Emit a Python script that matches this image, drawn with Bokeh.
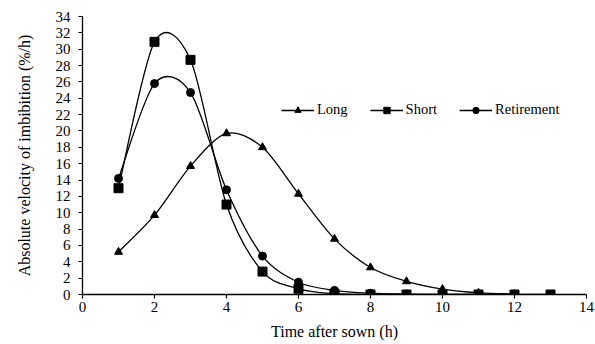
from bokeh.plotting import figure
from bokeh.models import Range1d, FixedTicker, Legend, LegendItem, ColumnDataSource
from bokeh.embed import file_html
from bokeh.resources import INLINE

# Data
long_x = [1, 2, 3, 4, 5, 6, 7, 8, 9, 10, 11, 12]
long_y = [5.2, 9.7, 15.7, 19.7, 18.0, 12.3, 6.8, 3.3, 1.6, 0.65, 0.2, 0.05]
short_x = [1, 2, 3, 4, 5, 6, 7, 8, 9, 10, 11, 12, 13]
short_y = [13.0, 30.9, 28.7, 11.0, 2.8, 0.7, 0.1, 0.0, 0.0, 0.0, 0.0, 0.0, 0.0]
ret_x = [1, 2, 3, 4, 5, 6, 7, 8, 9, 10, 11, 12]
ret_y = [14.2, 25.8, 24.7, 12.8, 4.7, 1.5, 0.5, 0.15, 0.05, 0.0, 0.0, 0.0]
x_ticks = list(range(0, 15, 2))
y_ticks = list(range(0, 35, 2))

FONT = "'Liberation Serif', 'Times New Roman', serif"

p = figure(width=595, height=344, output_backend="svg", toolbar_location=None,
           x_range=Range1d(0, 14), y_range=Range1d(0, 34),
           min_border_left=82, min_border_right=9, min_border_top=16, min_border_bottom=50)
p.outline_line_color = None
p.xgrid.visible = False
p.ygrid.visible = False
p.background_fill_color = "white"
p.border_fill_color = "white"

TENSION = 0.15


def smooth_segments(xs, ys):
    n = len(xs)
    seg = dict(x0=[], y0=[], x1=[], y1=[], cx0=[], cy0=[], cx1=[], cy1=[])
    for i in range(n - 1):
        xm, ym = (xs[i - 1], ys[i - 1]) if i > 0 else (xs[i], ys[i])
        xp, yp = (xs[i + 2], ys[i + 2]) if i + 2 < n else (xs[i + 1], ys[i + 1])
        seg["x0"].append(xs[i]); seg["y0"].append(ys[i])
        seg["x1"].append(xs[i + 1]); seg["y1"].append(ys[i + 1])
        seg["cx0"].append(xs[i] + (xs[i + 1] - xm) * TENSION)
        seg["cy0"].append(ys[i] + (ys[i + 1] - ym) * TENSION)
        seg["cx1"].append(xs[i + 1] - (xp - xs[i]) * TENSION)
        seg["cy1"].append(ys[i + 1] - (yp - ys[i]) * TENSION)
    return ColumnDataSource(seg)


series = [
    ("Long", long_x, long_y, "triangle", 8),
    ("Short", short_x, short_y, "square", 9),
    ("Retirement", ret_x, ret_y, "circle", 8),
]

items = []
for name, xs, ys, marker, size in series:
    p.bezier(x0="x0", y0="y0", x1="x1", y1="y1", cx0="cx0", cy0="cy0", cx1="cx1", cy1="cy1",
             source=smooth_segments(xs, ys), line_color="black", line_width=1.3)
    sr = p.scatter(xs, ys, marker=marker, size=size, fill_color="black", line_color="black")
    # legend-only line (placed outside the visible range)
    lr = p.line([-100, -99], [-100, -99], line_color="black", line_width=1.3)
    items.append(LegendItem(label=name, renderers=[lr, sr]))

legend = Legend(items=items, orientation="horizontal", location=(199, 176),
                padding=0, margin=0, spacing=22, glyph_width=33, glyph_height=16,
                label_height=16, label_standoff=3,
                label_text_font=FONT, label_text_font_size="14.5px", label_text_color="black",
                border_line_color=None, background_fill_alpha=0)
p.add_layout(legend, "center")

for ax in (p.xaxis, p.yaxis):
    ax.axis_line_color = "black"
    ax.axis_line_width = 1.3
    ax.major_tick_line_color = "black"
    ax.major_tick_line_width = 1.2
    ax.major_tick_in = 0
    ax.major_tick_out = 4
    ax.minor_tick_line_color = None
    ax.major_label_text_font = FONT
    ax.major_label_text_font_size = "15px"
    ax.major_label_text_color = "black"
    ax.axis_label_text_font = FONT
    ax.axis_label_text_font_size = "16px"
    ax.axis_label_text_font_style = "normal"
    ax.axis_label_text_color = "black"

p.xaxis.ticker = FixedTicker(ticks=x_ticks)
p.yaxis.ticker = FixedTicker(ticks=y_ticks)
p.xaxis.axis_label = "Time after sown (h)"
p.yaxis.axis_label = "Absolute velocity of imbibition (%/h)"
p.xaxis.major_label_standoff = 3
p.yaxis.major_label_standoff = 8
p.xaxis.axis_label_standoff = 8
p.yaxis.axis_label_standoff = 20

open("out.html", "w").write(file_html(p, INLINE))
